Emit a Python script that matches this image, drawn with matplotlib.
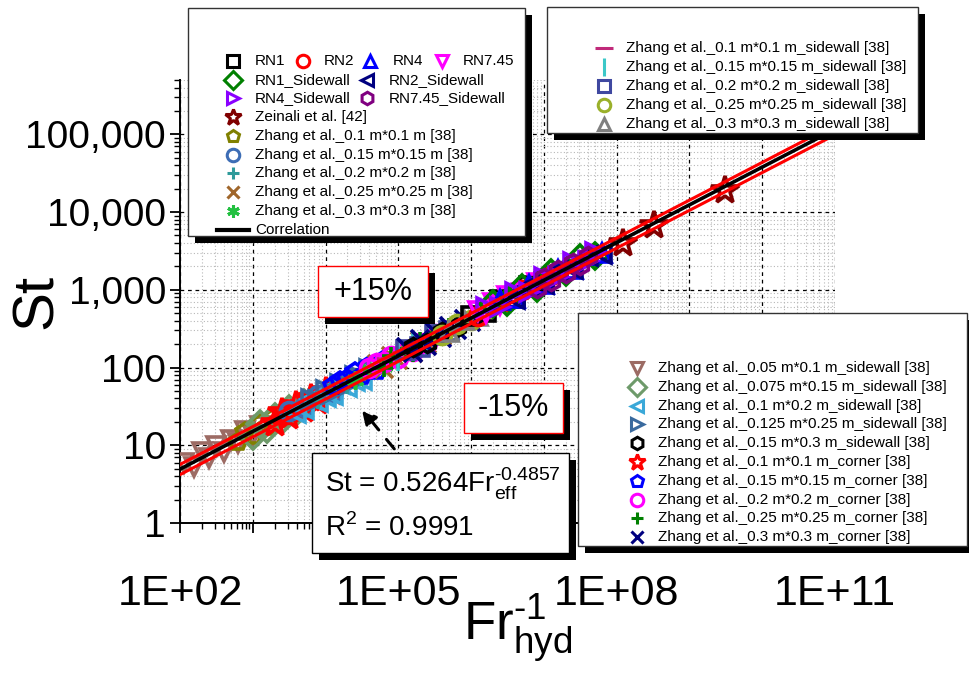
import numpy as np
import matplotlib
matplotlib.use('Agg')
import matplotlib.pyplot as plt
from matplotlib.lines import Line2D
from matplotlib.patches import Rectangle
from matplotlib.ticker import FixedLocator, LogLocator, FuncFormatter, NullFormatter
import matplotlib.patheffects as pe

plt.rcParams['font.family'] = ['Liberation Sans', 'DejaVu Sans']
plt.rcParams['mathtext.fontset'] = 'custom'
plt.rcParams['mathtext.rm'] = 'Liberation Sans'

# ---- data (Fr_hyd^-1 , St) ----
rn1_x = [1.0e6, 1.58e6, 2.51e6, 3.98e6, 6.31e6, 1.0e7]
rn1_st = [454, 513, 730, 786, 1110, 1256]
rn2_x = [1.26e6, 2.0e6, 3.16e6, 5.01e6, 7.94e6, 1.26e7]
rn2_st = [459, 641, 710, 992, 1123, 1537]
rn4_x = [2.51e6, 3.98e6, 6.31e6, 1.0e7, 1.58e7, 2.51e7, 3.98e7, 6.31e7]
rn4_st = [743, 778, 1163, 1190, 1818, 1860, 2792, 3007]
rn745_x = [1.26e6, 1.58e6, 2.0e6, 2.51e6, 3.16e6, 5.01e6, 7.94e6]
rn745_st = [541, 497, 677, 629, 831, 898, 1241]
rn1sw_x = [2.0e6, 3.16e6, 5.01e6, 7.94e6, 1.26e7, 2.0e7, 3.16e7, 5.01e7]
rn1sw_st = [665, 695, 1058, 1064, 1626, 1701, 2589, 2746]
rn2sw_x = [3.98e6, 6.31e6, 1.0e7, 1.58e7, 2.51e7, 3.98e7, 6.31e7]
rn2sw_st = [761, 1120, 1190, 1736, 1860, 2714, 2910]
rn4sw_x = [1.58e6, 2.51e6, 3.98e6, 6.31e6, 1.0e7, 1.58e7, 2.51e7, 3.98e7, 5.01e7]
rn4sw_st = [594, 608, 947, 930, 1481, 1455, 2274, 2327, 3036]
rn745sw_x = [7.94e6, 1.0e7, 1.26e7, 1.58e7, 2.0e7, 2.51e7, 3.16e7, 3.98e7]
rn745sw_st = [1064, 1428, 1301, 1818, 1664, 2232, 2081, 2740]
zeinali_x = [1.22e8, 3.3e8, 3.1e9]
zeinali_st = [4000, 6800, 19000]
z01_x = [631, 794, 1000, 1259, 1585, 1995, 2512]
z01_st = [10.9, 14.8, 13.3, 18.9, 17.0, 22.8, 21.7]
z015_x = [3162, 5012, 7943, 12589]
z015_st = [27.7, 31.3, 43.7, 49.0]
z02_x = [7943, 12589, 19953, 31623]
z02_st = [38.0, 55.7, 59.4, 85.5]
z025_x = [50119, 63096, 79433, 1.0e5, 125893, 158489, 199526, 251189, 316228, 398107]
z025_st = [111.0, 96.0, 141.3, 124.3, 173.7, 151.9, 221.2, 198.7, 271.7, 254.1]
z03_x = [25119, 39811, 63096, 1.0e5, 158489]
z03_st = [68.6, 95.7, 105.0, 148.3, 167.8]
z01sw_x = [79433, 125893, 199526, 316228, 501187]
z01sw_st = [128.7, 153.2, 203.4, 242.1, 315.1]
z015sw_x = [1.0e5, 158489, 251189, 398107]
z015sw_st = [135.6, 183.7, 214.2, 284.5]
z02sw_x = [125893, 199526, 316228, 501187]
z02sw_st = [167.4, 185.7, 259.4, 293.5]
z025sw_x = [398107, 630957, 1.0e6, 1584893]
z025sw_st = [262.4, 362.8, 406.2, 561.9]
z03sw_x = [501187, 794328, 1258925]
z03sw_st = [287.3, 409.5, 454.1]
z005sw_x = [112, 158, 200, 251, 316, 398, 501, 631, 794, 1000, 1259]
z005sw_st = [6.0, 5.24, 8.27, 6.94, 9.91, 8.19, 11.86, 10.61, 15.11, 13.57, 17.71]
z0075sw_x = [1000, 1259, 1585, 1995, 2512, 3162, 3981, 5012]
z0075sw_st = [13.3, 18.6, 16.2, 22.8, 21.2, 29.6, 26.6, 34.6]
z01x02sw_x = [3981, 5012, 6310, 7943, 10000, 12589, 15849, 19953, 25119, 31623]
z01x02sw_st = [26.0, 29.7, 39.1, 35.5, 41.5, 43.9, 60.6, 56.8, 66.4, 69.4]
z0125sw_x = [6310, 7943, 10000, 12589, 15849, 19953, 25119, 31623, 39811]
z0125sw_st = [39.9, 38.0, 50.8, 46.4, 61.2, 59.4, 77.9, 72.6, 94.8]
z015x03sw_x = [158489, 251189, 398107, 630957]
z015x03sw_st = [185.4, 209.8, 290.0, 328.2]
z01c_x = [1995, 2512, 3162, 3981, 5012, 6310, 7943, 10000, 12589]
z01c_st = [19.4, 26.4, 23.7, 32.5, 29.0, 40.6, 37.1, 49.8, 49.0]
z015c_x = [12589, 15849, 19953, 25119, 31623, 39811, 50119, 63096]
z015c_st = [57.8, 68.1, 71.0, 86.6, 76.7, 103.8, 90.8, 124.2]
z02c_x = [39811, 50119, 63096, 79433, 1.0e5, 125893, 158489, 199526, 251189, 316228]
z02c_st = [99.3, 116.0, 118.5, 141.3, 134.1, 170.5, 162.5, 207.4, 209.8, 266.8]
z025c_x = [63096, 79433, 1.0e5, 125893, 158489, 199526, 251189, 316228, 398107, 501187, 630957]
z025c_st = [99.4, 141.3, 127.1, 173.7, 155.4, 217.3, 198.7, 276.6, 248.6, 333.6, 317.9]
z03c_x = [125893, 158489, 199526, 251189, 316228, 398107, 501187, 630957, 794328, 1.0e6, 1258925]
z03c_st = [181.6, 155.4, 233.1, 187.7, 284.1, 237.5, 346.0, 304.0, 424.9, 388.9, 507.3]

# correlation St = 0.5264 Fr^0.4857 and +-15 %
fit_coef = 0.5264
fit_exp = 0.4857
fit_x = np.array([1e2, 1e11])

# legend labels
leg1_labels = ['RN1', 'RN2', 'RN4', 'RN7.45', 'RN1_Sidewall', 'RN2_Sidewall', 'RN4_Sidewall',
               'RN7.45_Sidewall', 'Zeinali et al. [42]', 'Zhang et al._0.1 m*0.1 m [38]',
               'Zhang et al._0.15 m*0.15 m [38]', 'Zhang et al._0.2 m*0.2 m [38]',
               'Zhang et al._0.25 m*0.25 m [38]', 'Zhang et al._0.3 m*0.3 m [38]']
leg2_labels = ['Zhang et al._0.1 m*0.1 m_sidewall [38]', 'Zhang et al._0.15 m*0.15 m_sidewall [38]',
               'Zhang et al._0.2 m*0.2 m_sidewall [38]', 'Zhang et al._0.25 m*0.25 m_sidewall [38]',
               'Zhang et al._0.3 m*0.3 m_sidewall [38]']
leg3_labels = ['Zhang et al._0.05 m*0.1 m_sidewall [38]', 'Zhang et al._0.075 m*0.15 m_sidewall [38]',
               'Zhang et al._0.1 m*0.2 m_sidewall [38]', 'Zhang et al._0.125 m*0.25 m_sidewall [38]',
               'Zhang et al._0.15 m*0.3 m_sidewall [38]', 'Zhang et al._0.1 m*0.1 m_corner [38]',
               'Zhang et al._0.15 m*0.15 m_corner [38]', 'Zhang et al._0.2 m*0.2 m_corner [38]',
               'Zhang et al._0.25 m*0.25 m_corner [38]', 'Zhang et al._0.3 m*0.3 m_corner [38]']

xdata = [rn1_x, rn2_x, rn4_x, rn745_x, rn1sw_x, rn2sw_x, rn4sw_x, rn745sw_x, zeinali_x,
         z01_x, z015_x, z02_x, z025_x, z03_x,
         z01sw_x, z015sw_x, z02sw_x, z025sw_x, z03sw_x,
         z005sw_x, z0075sw_x, z01x02sw_x, z0125sw_x, z015x03sw_x,
         z01c_x, z015c_x, z02c_x, z025c_x, z03c_x]
ydata = [rn1_st, rn2_st, rn4_st, rn745_st, rn1sw_st, rn2sw_st, rn4sw_st, rn745sw_st, zeinali_st,
         z01_st, z015_st, z02_st, z025_st, z03_st,
         z01sw_st, z015sw_st, z02sw_st, z025sw_st, z03sw_st,
         z005sw_st, z0075sw_st, z01x02sw_st, z0125sw_st, z015x03sw_st,
         z01c_st, z015c_st, z02c_st, z025c_st, z03c_st]
labels = leg1_labels + leg2_labels + leg3_labels

# marker, colour
styles = [('s', 'black'), ('o', 'red'), ('^', 'blue'), ('v', 'magenta'),
          ('D', '#008000'), ('<', '#000080'), ('>', '#8A00FF'), ('h', '#800080'),
          ('*', '#800000'), ('p', '#808000'), ('o', '#3D6DB5'), ('+', '#2E9A9A'),
          ('x', '#A0662B'), ((6, 2, 0), '#22C040'),
          ('_', '#C02A7A'), ('|', '#3CC8C8'), ('s', '#3F48A0'), ('o', '#9AB02A'), ('^', '#808080'),
          ('v', '#9C6B64'), ('D', '#6E9A6A'), ('<', '#3AA8D8'), ('>', '#3A6A9E'), ('h', 'black'),
          ('*', 'red'), ('p', 'blue'), ('o', 'magenta'), ('+', '#008000'), ('x', '#000080')]

W, H = 969, 675


def mk(i, ms, mew=2.2, star=1.6):
    m, c = styles[i]
    size = ms
    if m == '*':
        size = ms * star
    if m in ('_', '|'):
        size = ms * 1.5
    return dict(marker=m, ms=size, mec=c, mfc='none', mew=mew, ls='none', color=c)


fig = plt.figure(figsize=(W / 100, H / 100), dpi=100)
ax = fig.add_axes([180 / W, 1 - 523 / H, 655 / W, 443 / H])

plot_order = [19, 9, 20, 24, 10, 21, 22, 11, 25, 13, 12, 26, 27, 14, 15, 16, 28, 23, 17, 18,
              0, 1, 3, 4, 2, 5, 6, 7, 8]
for i in plot_order:
    ax.plot(xdata[i], ydata[i], zorder=3, **mk(i, 13, 2.6))

fit_st = fit_coef * fit_x ** fit_exp
ax.plot(fit_x, fit_st * 1.15, color='red', lw=2.2, zorder=4)
ax.plot(fit_x, fit_st * 0.85, color='red', lw=2.2, zorder=4)
ax.plot(fit_x, fit_st, color='black', lw=2.6, zorder=5)

ax.set_xscale('log')
ax.set_yscale('log')
ax.set_xlim(1e2, 1e11)
ax.set_ylim(1, 5e5)

ax.xaxis.set_major_locator(FixedLocator([10.0 ** k for k in range(2, 12)]))
ax.xaxis.set_major_formatter(FuncFormatter(
    lambda v, p: '1E+%02d' % round(np.log10(v)) if round(np.log10(v)) % 3 == 2 else ''))
ax.xaxis.set_minor_locator(LogLocator(base=10, subs=np.arange(2, 10), numticks=100))
ax.xaxis.set_minor_formatter(NullFormatter())
ax.yaxis.set_major_locator(FixedLocator([10.0 ** k for k in range(0, 6)]))
ax.yaxis.set_major_formatter(FuncFormatter(lambda v, p: f'{v:,.0f}'))
ax.yaxis.set_minor_locator(LogLocator(base=10, subs=np.arange(2, 10), numticks=100))
ax.yaxis.set_minor_formatter(NullFormatter())

ax.tick_params(which='major', direction='out', length=7, width=1.3)
ax.tick_params(which='minor', direction='out', length=4, width=1.0)
ax.tick_params(axis='x', labelsize=31, pad=30)
ax.tick_params(axis='y', labelsize=28, pad=3)
ax.set_axisbelow(True)
ax.grid(which='major', ls=(0, (3, 3)), color='black', lw=0.9)
ax.grid(which='minor', ls=(0, (1, 2)), color='#b8b8b8', lw=0.8)
for s in ['top', 'right']:
    ax.spines[s].set_visible(False)
for s in ['left', 'bottom']:
    ax.spines[s].set_linewidth(1.4)

ax.set_ylabel('St', fontsize=42)
ax.yaxis.set_label_coords(-0.178, 0.5)
ax.set_xlabel(r'Fr$_{\mathregular{hyd}}^{\text{-1}}$', fontsize=38)
ax.xaxis.set_label_coords(0.515, -0.155)

shadow = [pe.SimplePatchShadow(offset=(5, -5), shadow_rgbFace='black', alpha=1), pe.Normal()]


def box(x0, y0, x1, y1, ec='#333333'):
    r = Rectangle((x0 / W, 1 - y1 / H), (x1 - x0) / W, (y1 - y0) / H, transform=fig.transFigure,
                  fc='white', ec=ec, lw=1.0, zorder=10, path_effects=shadow)
    fig.add_artist(r)


def entry(i, mx, tx, y, ms=9):
    fig.add_artist(Line2D([mx / W], [1 - y / H], transform=fig.transFigure, zorder=11,
                          **mk(i, ms, 2.2, 1.35)))
    fig.text(tx / W, 1 - y / H, labels[i], fontsize=11, va='center', ha='left', zorder=11)


# legend 1
box(188, 8, 525, 236)
row1 = [(233, 255), (303, 324), (370, 393), (442, 463)]
for i, (mx, tx) in enumerate(row1):
    entry(i, mx, tx, 61)
entry(4, 233, 255, 80)
entry(5, 367, 389, 80)
entry(6, 233, 255, 98)
entry(7, 367, 389, 98)
for k, i in enumerate(range(8, 14)):
    entry(i, 233, 255, 117 + 18.8 * k)
fig.add_artist(Line2D([217 / W, 249 / W], [1 - 230 / H] * 2, transform=fig.transFigure,
                      color='black', lw=3, zorder=11))
fig.text(255 / W, 1 - 230 / H, 'Correlation', fontsize=11, va='center', ha='left', zorder=11)

# legend 2
box(547, 7, 918, 133)
for k, i in enumerate(range(14, 19)):
    entry(i, 604, 626, 48 + 19 * k)

# legend 3
box(578, 313, 967, 546)
for k, i in enumerate(range(19, 29)):
    entry(i, 637, 658, 368 + 18.8 * k)

# annotation boxes
box(318, 266, 428, 317, ec='red')
fig.text(373 / W, 1 - 292 / H, '+15%', fontsize=22, ha='center', va='center', zorder=11)
box(464, 383, 563, 433, ec='red')
fig.text(513 / W, 1 - 408 / H, '-15%', fontsize=22, ha='center', va='center', zorder=11)
box(312, 453, 569, 553, ec='black')
fig.text(325 / W, 1 - 484 / H, r'St = 0.5264Fr$_{\mathregular{eff}}^{\text{-0.4857}}$',
         fontsize=20, ha='left', va='center', zorder=11)
fig.text(325 / W, 1 - 528 / H, r'R$^{\mathregular{2}}$ = 0.9991',
         fontsize=20, ha='left', va='center', zorder=11)

ax.annotate('', xy=(360 / W, 1 - 407 / H), xycoords='figure fraction',
            xytext=(396 / W, 1 - 451 / H), textcoords='figure fraction',
            arrowprops=dict(arrowstyle='-|>', color='black', lw=2.2, ls=(0, (4, 4)),
                            mutation_scale=22), zorder=6)

fig.savefig('out.png', dpi=100)
